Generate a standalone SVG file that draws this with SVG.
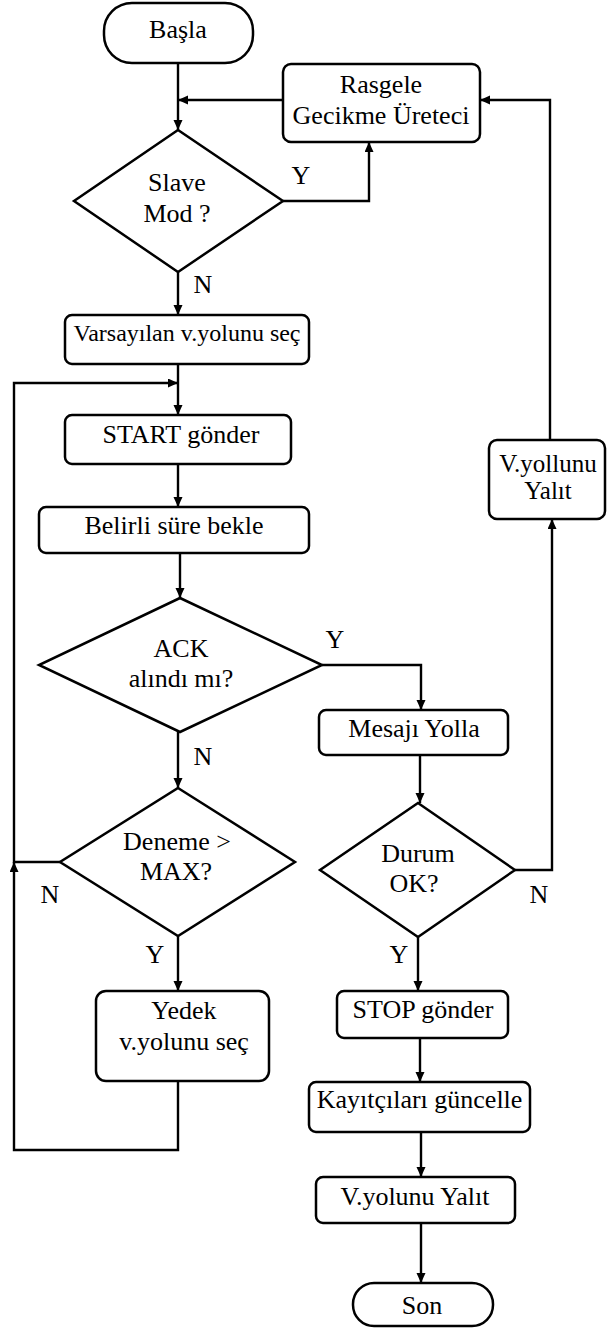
<svg xmlns="http://www.w3.org/2000/svg" width="607" height="1328" viewBox="0 0 607 1328" font-family="Liberation Serif, Times New Roman, serif">
<style>
.s{fill:#fff;stroke:#000;stroke-width:2.5}
.c{fill:none;stroke:#000;stroke-width:2.4}
text{font-size:26px;fill:#000;text-anchor:middle}
.sm{font-size:24px}
.vy{font-size:25px}
</style>
<defs>
<marker id="a" markerUnits="userSpaceOnUse" markerWidth="11" markerHeight="10" refX="10" refY="4.5" orient="auto">
<path d="M0,0 L10,4.5 L0,9 z" fill="#000"/>
</marker>
</defs>
<rect width="607" height="1328" fill="#fff"/>
<g id="connectors">
<path class="c" d="M178,63 V130" marker-end="url(#a)"/>
<path class="c" d="M283,100 H178" marker-end="url(#a)"/>
<path class="c" d="M283,201 H369 V142" marker-end="url(#a)"/>
<path class="c" d="M178,272 V315" marker-end="url(#a)"/>
<path class="c" d="M178,364 V415" marker-end="url(#a)"/>
<path class="c" d="M178,464 V507" marker-end="url(#a)"/>
<path class="c" d="M180,553 V598" marker-end="url(#a)"/>
<path class="c" d="M322,665 H421 V710" marker-end="url(#a)"/>
<path class="c" d="M178,732 V788" marker-end="url(#a)"/>
<path class="c" d="M420,755 V803" marker-end="url(#a)"/>
<path class="c" d="M515,870 H552 V519" marker-end="url(#a)"/>
<path class="c" d="M550,440 V100 H480" marker-end="url(#a)"/>
<path class="c" d="M178,936 V991" marker-end="url(#a)"/>
<path class="c" d="M418,937 V991" marker-end="url(#a)"/>
<path class="c" d="M420,1038 V1082" marker-end="url(#a)"/>
<path class="c" d="M421,1132 V1177" marker-end="url(#a)"/>
<path class="c" d="M421,1223 V1283" marker-end="url(#a)"/>
<path class="c" d="M178,1081 V1150 H14 V862" marker-end="url(#a)"/>
<path class="c" d="M60,862 H14 V383 H178" marker-end="url(#a)"/>
<text x="301" y="184">Y</text>
<text x="203" y="293">N</text>
<text x="335" y="648">Y</text>
<text x="203" y="765">N</text>
<text x="50" y="903">N</text>
<text x="539" y="903">N</text>
<text x="155" y="963">Y</text>
<text x="399" y="963">Y</text>
</g>
<g id="basla">
<rect class="s" x="104" y="3" width="149" height="60" rx="28"/>
<text x="178" y="38">Başla</text>
</g>
<g id="rasgele">
<rect class="s" x="283" y="64" width="197" height="78" rx="8"/>
<text x="381" y="93">Rasgele</text>
<text x="381" y="124">Gecikme Üreteci</text>
</g>
<g id="slave">
<polygon class="s" points="178,130 283,201 178,272 74,201"/>
<text x="177" y="191">Slave</text>
<text x="177" y="222">Mod ?</text>
</g>
<g id="varsayilan">
<rect class="s" x="65" y="315" width="244" height="49" rx="7"/>
<text class="sm" x="187" y="341">Varsayılan v.yolunu seç</text>
</g>
<g id="start">
<rect class="s" x="65" y="415" width="226" height="49" rx="7"/>
<text x="181" y="443">START gönder</text>
</g>
<g id="belirli">
<rect class="s" x="39" y="507" width="270" height="46" rx="7"/>
<text x="174" y="534">Belirli süre bekle</text>
</g>
<g id="ack">
<polygon class="s" points="180,598 322,665 180,732 39,665"/>
<text x="181" y="657">ACK</text>
<text x="181" y="687">alındı mı?</text>
</g>
<g id="mesaji">
<rect class="s" x="319" y="710" width="189" height="45" rx="7"/>
<text x="414" y="737">Mesajı Yolla</text>
</g>
<g id="vyollunu">
<rect class="s" x="489" y="440" width="116" height="79" rx="8"/>
<text class="vy" x="548" y="472">V.yollunu</text>
<text class="vy" x="548" y="499">Yalıt</text>
</g>
<g id="deneme">
<polygon class="s" points="178,788 295,862 178,936 60,862"/>
<text x="177" y="850">Deneme &gt;</text>
<text x="176" y="880">MAX?</text>
</g>
<g id="durum">
<polygon class="s" points="418,803 515,870 418,937 320,870"/>
<text x="418" y="862">Durum</text>
<text x="414" y="892">OK?</text>
</g>
<g id="yedek">
<rect class="s" x="96" y="991" width="173" height="90" rx="10"/>
<text x="184" y="1019">Yedek</text>
<text x="184" y="1050">v.yolunu seç</text>
</g>
<g id="stop">
<rect class="s" x="337" y="991" width="171" height="47" rx="7"/>
<text x="423" y="1018">STOP gönder</text>
</g>
<g id="kayitcilari">
<rect class="s" x="309" y="1082" width="221" height="50" rx="7"/>
<text x="419.5" y="1108">Kayıtçıları güncelle</text>
</g>
<g id="vyolunu">
<rect class="s" x="316" y="1177" width="199" height="46" rx="7"/>
<text x="415" y="1205">V.yolunu Yalıt</text>
</g>
<g id="son">
<rect class="s" x="353" y="1283" width="140" height="43" rx="21"/>
<text x="422" y="1314">Son</text>
</g>
</svg>
